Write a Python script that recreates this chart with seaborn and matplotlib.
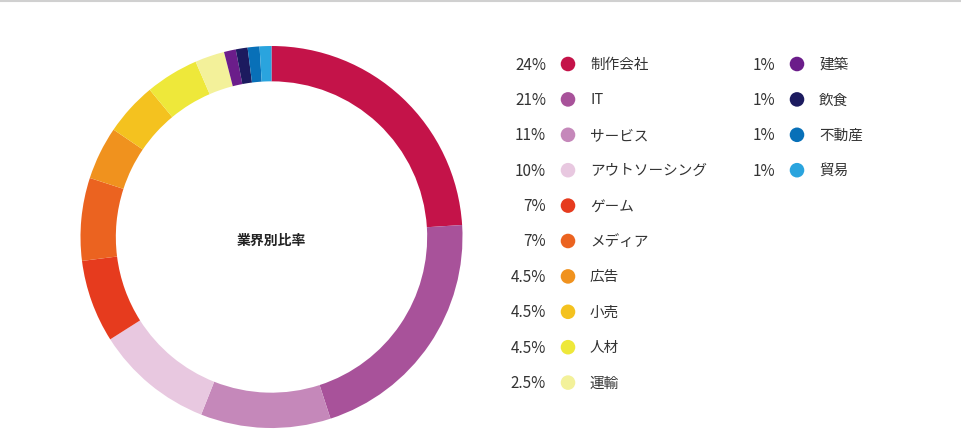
import numpy as np
import pandas as pd
import seaborn as sns
import matplotlib.pyplot as plt

# data
industries = ['制作会社', 'IT', 'サービス', 'アウトソーシング', 'ゲーム', 'メディア',
              '広告', '小売', '人材', '運輸', '建築', '飲食', '不動産', '貿易']
shares = [24, 21, 11, 10, 7, 7, 4.5, 4.5, 4.5, 2.5, 1, 1, 1, 1]
share_labels = ['24%', '21%', '11%', '10%', '7%', '7%', '4.5%', '4.5%', '4.5%', '2.5%',
                '1%', '1%', '1%', '1%']
colors = ['#C41349', '#A8529A', '#C588BA', '#E8C8E0', '#E63B1E', '#EB6320',
          '#F0921E', '#F4C21F', '#EEE83A', '#F3F19A', '#6B1D8A', '#1C1B5F',
          '#0870B8', '#2AA4DE']
title = '業界別比率'

sns.set_theme(style='white')
plt.rcParams['font.family'] = ['Noto Sans CJK JP', 'DejaVu Sans']

W, H = 961, 440
fig = plt.figure(figsize=(W / 100, H / 100), dpi=100)

# thin grey rule at the top
fig.add_artist(plt.Line2D([0, 1], [1 - 1 / H, 1 - 1 / H], color='#d0d0d0', lw=1.5,
                          transform=fig.transFigure))

# donut
cx, cy, r = 271.5, 237, 191
ax = fig.add_axes([(cx - r) / W, (H - cy - r) / H, 2 * r / W, 2 * r / H])
ax.pie(shares, colors=colors, startangle=90, counterclock=False, radius=1,
       wedgeprops=dict(width=0.185, edgecolor='none'))
ax.set_xlim(-1, 1)
ax.set_ylim(-1, 1)
ax.set_aspect('equal')
ax.text(0, -0.02, title, ha='center', va='center', fontsize=10, fontweight='bold',
        color='#222222')
ax.axis('off')

# legend drawn on an overlay axis in pixel units
lax = fig.add_axes([0, 0, 1, 1])
lax.set_xlim(0, W)
lax.set_ylim(H, 0)
lax.axis('off')

rows_per_col = 10
legend = pd.DataFrame({'industry': industries, 'label': share_labels})
legend['col'] = np.arange(len(industries)) // rows_per_col
legend['row'] = np.arange(len(industries)) % rows_per_col
col_x = np.array([568, 797])
legend['dot_x'] = col_x[legend['col']]
legend['dot_y'] = 64 + legend['row'] * 35.4

sns.scatterplot(data=legend, x='dot_x', y='dot_y', hue='industry', palette=colors,
                s=110, edgecolor='none', legend=False, ax=lax)
lax.set_xlim(0, W)
lax.set_ylim(H, 0)
lax.set(xlabel='', ylabel='')

for _, row in legend.iterrows():
    lax.text(row.dot_x - 22, row.dot_y + 1, row.label, ha='right', va='center',
             fontsize=11, color='#333333')
    lax.text(row.dot_x + 22, row.dot_y + 1, row.industry, ha='left', va='center',
             fontsize=10.5, color='#333333')

fig.savefig('out.png', dpi=100)
